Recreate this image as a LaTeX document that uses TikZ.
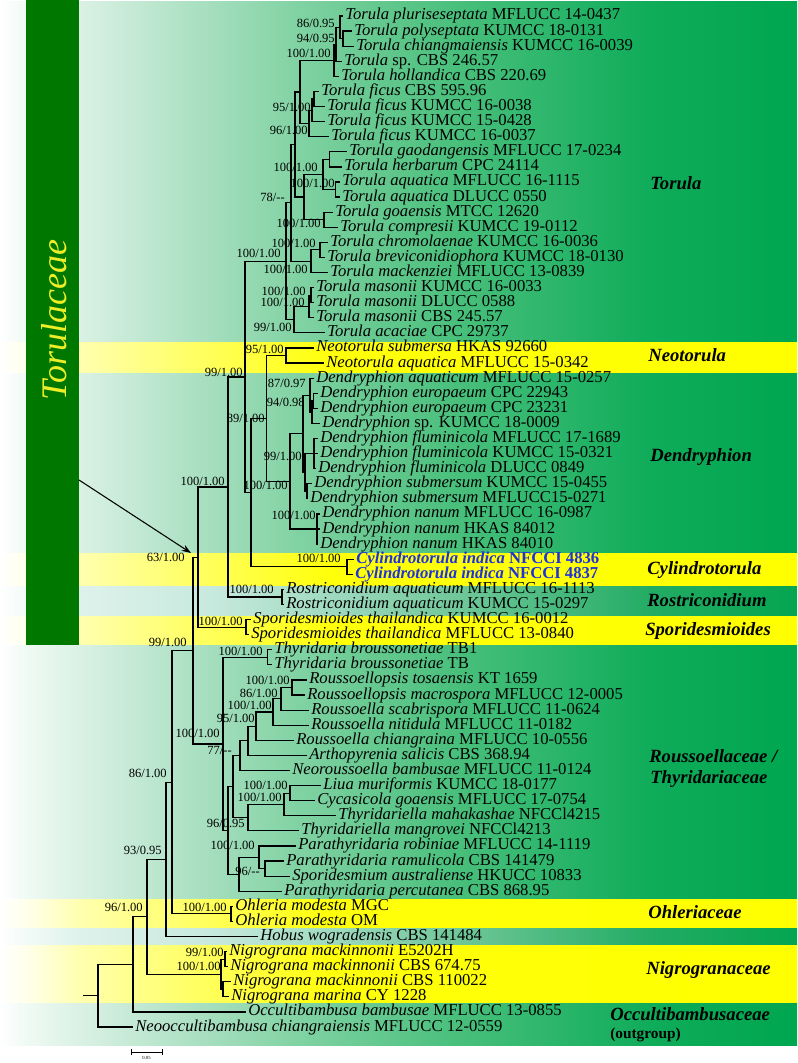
\documentclass[tikz,border=0pt]{standalone}
\usepackage{fontspec}
\setmainfont{Liberation Serif}
\usetikzlibrary{arrows.meta}
\definecolor{famgreen}{RGB}{0,120,0}
\definecolor{famtext}{RGB}{238,238,40}
\definecolor{cylblue}{RGB}{30,50,220}
% green band
\definecolor{ga}{RGB}{255,255,255}
\definecolor{gb}{RGB}{240,250,244}
\definecolor{gc}{RGB}{218,241,228}
\definecolor{gd}{RGB}{165,222,190}
\definecolor{ge}{RGB}{128,210,162}
\definecolor{gf}{RGB}{75,192,125}
\definecolor{gg}{RGB}{15,172,90}
\definecolor{gh}{RGB}{0,166,80}
% yellow band
\definecolor{ya}{RGB}{255,255,255}
\definecolor{yb}{RGB}{255,255,235}
\definecolor{yc}{RGB}{255,255,175}
\definecolor{yd}{RGB}{255,255,90}
\definecolor{ye}{RGB}{255,255,10}
\definecolor{yf}{RGB}{255,255,0}
% teal band
\definecolor{ta}{RGB}{255,255,255}
\definecolor{tb}{RGB}{242,250,248}
\definecolor{tc}{RGB}{222,242,235}
\definecolor{td}{RGB}{200,233,222}
\definecolor{te}{RGB}{170,222,200}
\definecolor{tf}{RGB}{115,200,155}
\definecolor{tg}{RGB}{35,172,100}
\definecolor{th}{RGB}{5,165,80}
\pgfdeclarehorizontalshading{greenband}{100bp}{color(0bp)=(ga); color(25bp)=(ga); color(26.63bp)=(gb); color(30.02bp)=(gc); color(38.17bp)=(gd); color(43.82bp)=(ge); color(53.23bp)=(gf); color(65.78bp)=(gg); color(75bp)=(gh); color(100bp)=(gh)}
\pgfdeclarehorizontalshading{yellowband}{100bp}{color(0bp)=(ya); color(25bp)=(ya); color(26.63bp)=(yb); color(30.02bp)=(yc); color(38.17bp)=(yd); color(45.7bp)=(ye); color(75bp)=(yf); color(100bp)=(yf)}
\pgfdeclarehorizontalshading{tealband}{100bp}{color(0bp)=(ta); color(25bp)=(ta); color(26.63bp)=(tb); color(30.02bp)=(tc); color(38.17bp)=(td); color(43.82bp)=(te); color(53.23bp)=(tf); color(65.78bp)=(tg); color(75bp)=(th); color(100bp)=(th)}
\newcommand\taxon[2]{\textit{#1} #2}
\begin{document}
\begin{tikzpicture}[x=0.75pt,y=-0.75pt,
  declare function={rw(\i)=16+15.09*\i;},
  tax/.style={anchor=west, inner xsep=1.5pt, inner ysep=0pt, font=\fontsize{12.5}{12.5}\selectfont, text height=8.5pt, text depth=2.5pt},
  sup/.style={anchor=east, inner sep=0pt, font=\fontsize{9.4}{9.4}\selectfont, text height=6.2pt, text depth=0pt},
  clade/.style={anchor=west, inner sep=0pt, font=\fontsize{14}{14}\selectfont\bfseries\itshape},
  br/.style={line width=0.9pt, black}]
\useasboundingbox (0,0) rectangle (797,1063);
% ---- background bands
\shade[shading=greenband]  (0,1.5) rectangle (797,342);
\shade[shading=yellowband] (0,342) rectangle (797,373);
\shade[shading=greenband]  (0,373) rectangle (797,553);
\shade[shading=yellowband] (0,553) rectangle (797,586);
\shade[shading=tealband]   (0,586) rectangle (797,616);
\shade[shading=yellowband] (0,616) rectangle (797,645);
\shade[shading=greenband]  (0,645) rectangle (797,899);
\shade[shading=yellowband] (0,899) rectangle (797,928);
\shade[shading=tealband]   (0,928) rectangle (797,945);
\shade[shading=yellowband] (0,945) rectangle (797,1003);
\shade[shading=greenband]  (0,1003) rectangle (797,1045);
% ---- family box
\fill[famgreen] (26,0) rectangle (79,645);
\node[rotate=90, inner sep=0pt, font=\fontsize{27}{27}\selectfont\itshape, text=famtext] (famlab) at (54,320) {Torulaceae};
\coordinate (arrS) at (79,480);
\coordinate (arrE) at (191,553);
\draw[line width=0.8pt, -{Stealth[length=7pt,width=5pt]}] (arrS) -- (arrE);
% ---- tips
\node[tax] (t0) at (343,{rw(0)}) {\taxon{Torula pluriseseptata}{MFLUCC 14-0437}};
\node[tax] (t1) at (352,{rw(1)}) {\taxon{Torula polyseptata}{KUMCC 18-0131}};
\node[tax] (t2) at (354,{rw(2)}) {\taxon{Torula chiangmaiensis}{KUMCC 16-0039}};
\node[tax] (t3) at (342,{rw(3)}) {\taxon{Torula}{sp. CBS 246.57}};
\node[tax] (t4) at (339,{rw(4)}) {\taxon{Torula hollandica}{CBS 220.69}};
\node[tax] (t5) at (319,{rw(5)}) {\taxon{Torula ficus}{CBS 595.96}};
\node[tax] (t6) at (325,{rw(6)}) {\taxon{Torula ficus}{KUMCC 16-0038}};
\node[tax] (t7) at (325,{rw(7)}) {\taxon{Torula ficus}{KUMCC 15-0428}};
\node[tax] (t8) at (329,{rw(8)}) {\taxon{Torula ficus}{KUMCC 16-0037}};
\node[tax] (t9) at (347,{rw(9)}) {\taxon{Torula gaodangensis}{MFLUCC 17-0234}};
\node[tax] (t10) at (342,{rw(10)}) {\taxon{Torula herbarum}{CPC 24114}};
\node[tax] (t11) at (340,{rw(11)}) {\taxon{Torula aquatica}{MFLUCC 16-1115}};
\node[tax] (t12) at (340,{rw(12)}) {\taxon{Torula aquatica}{DLUCC 0550}};
\node[tax] (t13) at (333,{rw(13)}) {\taxon{Torula goaensis}{MTCC 12620}};
\node[tax] (t14) at (338,{rw(14)}) {\taxon{Torula compresii}{KUMCC 19-0112}};
\node[tax] (t15) at (328,{rw(15)}) {\taxon{Torula chromolaenae}{KUMCC 16-0036}};
\node[tax] (t16) at (325,{rw(16)}) {\taxon{Torula breviconidiophora}{KUMCC 18-0130}};
\node[tax] (t17) at (328,{rw(17)}) {\taxon{Torula mackenziei}{MFLUCC 13-0839}};
\node[tax] (t18) at (314,{rw(18)}) {\taxon{Torula masonii}{KUMCC 16-0033}};
\node[tax] (t19) at (314,{rw(19)}) {\taxon{Torula masonii}{DLUCC 0588}};
\node[tax] (t20) at (314,{rw(20)}) {\taxon{Torula masonii}{CBS 245.57}};
\node[tax] (t21) at (325,{rw(21)}) {\taxon{Torula acaciae}{CPC 29737}};
\node[tax] (t22) at (314,{rw(22)}) {\taxon{Neotorula submersa}{HKAS 92660}};
\node[tax] (t23) at (324,{rw(23)}) {\taxon{Neotorula aquatica}{MFLUCC 15-0342}};
\node[tax] (t24) at (314,{rw(24)}) {\taxon{Dendryphion aquaticum}{MFLUCC 15-0257}};
\node[tax] (t25) at (318,{rw(25)}) {\taxon{Dendryphion europaeum}{CPC 22943}};
\node[tax] (t26) at (318,{rw(26)}) {\taxon{Dendryphion europaeum}{CPC 23231}};
\node[tax] (t27) at (320,{rw(27)}) {\taxon{Dendryphion}{sp. KUMCC 18-0009}};
\node[tax] (t28) at (318,{rw(28)}) {\taxon{Dendryphion fluminicola}{MFLUCC 17-1689}};
\node[tax] (t29) at (318,{rw(29)}) {\taxon{Dendryphion fluminicola}{KUMCC 15-0321}};
\node[tax] (t30) at (316,{rw(30)}) {\taxon{Dendryphion fluminicola}{DLUCC 0849}};
\node[tax] (t31) at (312,{rw(31)}) {\taxon{Dendryphion submersum}{KUMCC 15-0455}};
\node[tax] (t32) at (308,{rw(32)}) {\taxon{Dendryphion submersum}{MFLUCC15-0271}};
\node[tax] (t33) at (320,{rw(33)}) {\taxon{Dendryphion nanum}{MFLUCC 16-0987}};
\node[tax] (t34) at (320,{rw(34)}) {\taxon{Dendryphion nanum}{HKAS 84012}};
\node[tax] (t35) at (318,{rw(35)}) {\taxon{Dendryphion nanum}{HKAS 84010}};
\node[tax, text=cylblue, font=\fontsize{12.5}{12.5}\selectfont\bfseries] (t36) at (354,{rw(36)}) {\taxon{Cylindrotorula indica}{NFCCI 4836}};
\node[tax, text=cylblue, font=\fontsize{12.5}{12.5}\selectfont\bfseries] (t37) at (353,{rw(37)}) {\taxon{Cylindrotorula indica}{NFCCI 4837}};
\node[tax] (t38) at (284,{rw(38)}) {\taxon{Rostriconidium aquaticum}{MFLUCC 16-1113}};
\node[tax] (t39) at (284,{rw(39)}) {\taxon{Rostriconidium aquaticum}{KUMCC 15-0297}};
\node[tax] (t40) at (251,{rw(40)}) {\taxon{Sporidesmioides thailandica}{KUMCC 16-0012}};
\node[tax] (t41) at (249,{rw(41)}) {\taxon{Sporidesmioides thailandica}{MFLUCC 13-0840}};
\node[tax] (t42) at (272,{rw(42)}) {\taxon{Thyridaria broussonetiae}{TB1}};
\node[tax] (t43) at (272,{rw(43)}) {\taxon{Thyridaria broussonetiae}{TB}};
\node[tax] (t44) at (307,{rw(44)}) {\taxon{Roussoellopsis tosaensis}{KT 1659}};
\node[tax] (t45) at (305,{rw(45)}) {\taxon{Roussoellopsis macrospora}{MFLUCC 12-0005}};
\node[tax] (t46) at (309,{rw(46)}) {\taxon{Roussoella scabrispora}{MFLUCC 11-0624}};
\node[tax] (t47) at (309,{rw(47)}) {\taxon{Roussoella nitidula}{MFLUCC 11-0182}};
\node[tax] (t48) at (294,{rw(48)}) {\taxon{Roussoella chiangraina}{MFLUCC 10-0556}};
\node[tax] (t49) at (307,{rw(49)}) {\taxon{Arthopyrenia salicis}{CBS 368.94}};
\node[tax] (t50) at (290,{rw(50)}) {\taxon{Neoroussoella bambusae}{MFLUCC 11-0124}};
\node[tax] (t51) at (321,{rw(51)}) {\taxon{Liua muriformis}{KUMCC 18-0177}};
\node[tax] (t52) at (315,{rw(52)}) {\taxon{Cycasicola goaensis}{MFLUCC 17-0754}};
\node[tax] (t53) at (336,{rw(53)}) {\taxon{Thyridariella mahakashae}{NFCCl4215}};
\node[tax] (t54) at (299,{rw(54)}) {\taxon{Thyridariella mangrovei}{NFCCl4213}};
\node[tax] (t55) at (296,{rw(55)}) {\taxon{Parathyridaria robiniae}{MFLUCC 14-1119}};
\node[tax] (t56) at (284,{rw(56)}) {\taxon{Parathyridaria ramulicola}{CBS 141479}};
\node[tax] (t57) at (290,{rw(57)}) {\taxon{Sporidesmium australiense}{HKUCC 10833}};
\node[tax] (t58) at (282,{rw(58)}) {\taxon{Parathyridaria percutanea}{CBS 868.95}};
\node[tax] (t59) at (233,{rw(59)}) {\taxon{Ohleria modesta}{MGC}};
\node[tax] (t60) at (233,{rw(60)}) {\taxon{Ohleria modesta}{OM}};
\node[tax] (t61) at (258,{rw(61)}) {\taxon{Hobus wogradensis}{CBS 141484}};
\node[tax] (t62) at (227,{rw(62)}) {\taxon{Nigrograna mackinnonii}{E5202H}};
\node[tax] (t63) at (228,{rw(63)}) {\taxon{Nigrograna mackinnonii}{CBS 674.75}};
\node[tax] (t64) at (231,{rw(64)}) {\taxon{Nigrograna mackinnonii}{CBS 110022}};
\node[tax] (t65) at (229,{rw(65)}) {\taxon{Nigrograna marina}{CY 1228}};
\node[tax] (t66) at (246,{rw(66)}) {\taxon{Occultibambusa bambusae}{MFLUCC 13-0855}};
\node[tax] (t67) at (133,{rw(67)}) {\taxon{Neooccultibambusa chiangraiensis}{MFLUCC 12-0559}};
% ---- internal nodes
\coordinate (B) at (343,{rw(1.5)});
\coordinate (A) at (340,{rw(0.75)});
\coordinate (C1) at (336,{rw(1.875)});
\coordinate (C) at (334,{rw(2.94)});
\coordinate (E1) at (314,{rw(5.5)});
\coordinate (E2) at (312,{rw(6.25)});
\coordinate (E) at (309,{rw(7.125)});
\coordinate (D) at (300,{rw(5.03)});
\coordinate (G1) at (329.5,{rw(9.5)});
\coordinate (G2) at (335.5,{rw(11.5)});
\coordinate (G) at (323,{rw(10.5)});
\coordinate (G3) at (324,{rw(13.5)});
\coordinate (G4) at (304,{rw(12)});
\coordinate (H) at (295,{rw(8.52)});
\coordinate (I1) at (320,{rw(15.5)});
\coordinate (I2) at (311,{rw(16.25)});
\coordinate (Hp) at (291,{rw(12.38)});
\coordinate (M1) at (311,{rw(18.5)});
\coordinate (M) at (309,{rw(19.25)});
\coordinate (K) at (294,{rw(20.125)});
\coordinate (T0) at (286,{rw(16.25)});
\coordinate (N) at (286,{rw(22.5)});
\coordinate (De2a) at (313.5,{rw(25.5)});
\coordinate (De2) at (312,{rw(26.25)});
\coordinate (De) at (310,{rw(25.125)});
\coordinate (Df) at (314,{rw(29)});
\coordinate (Ds) at (307,{rw(31.5)});
\coordinate (Dfs) at (305,{rw(30.25)});
\coordinate (Dx) at (303,{rw(27.69)});
\coordinate (Dn) at (317,{rw(34)});
\coordinate (Dr) at (290,{rw(30.84)});
\coordinate (Q) at (266.6,{rw(26.67)});
\coordinate (Cy) at (347,{rw(36.5)});
\coordinate (R) at (251,{rw(31.58)});
\coordinate (P) at (245,{rw(23.92)});
\coordinate (Ro) at (282,{rw(38.5)});
\coordinate (S) at (228,{rw(31.21)});
\coordinate (Sp) at (246,{rw(40.5)});
\coordinate (U) at (198,{rw(35.86)});
\coordinate (Th) at (267.6,{rw(42.5)});
\coordinate (Ra) at (292,{rw(44.5)});
\coordinate (Rb) at (281,{rw(45.25)});
\coordinate (Rc) at (273,{rw(46.125)});
\coordinate (Rd) at (256,{rw(47.06)});
\coordinate (Re) at (248,{rw(48.03)});
\coordinate (Rf) at (240,{rw(49.02)});
\coordinate (Rg) at (290,{rw(51.5)});
\coordinate (Rh) at (284,{rw(52.25)});
\coordinate (Ri) at (248,{rw(53.125)});
\coordinate (Rn) at (233,{rw(51.07)});
\coordinate (Rj) at (265,{rw(56.5)});
\coordinate (Rk) at (259,{rw(55.75)});
\coordinate (Rl) at (239,{rw(56.875)});
\coordinate (Rm) at (228,{rw(53.97)});
\coordinate (W) at (223,{rw(48.24)});
\coordinate (V) at (193,{rw(42.05)});
\coordinate (Oh) at (231,{rw(59.5)});
\coordinate (X) at (172,{rw(50.78)});
\coordinate (Y) at (166,{rw(55.89)});
\coordinate (Ng1) at (225,{rw(62.5)});
\coordinate (Ng2) at (223,{rw(64.5)});
\coordinate (Ng) at (221,{rw(63.5)});
\coordinate (Z) at (147,{rw(59.7)});
\coordinate (Oc) at (133,{rw(62.85)});
\coordinate (Root) at (98,{rw(64.92)});
\coordinate (stub) at (83,{rw(64.92)});
% ---- branches
\foreach \a/\b in {A/t0.west, A/B, B/t1.west, B/t2.west, C1/A, C1/t3.west, C/C1, C/t4.west,
  E1/t5.west, E1/t6.west, E2/E1, E2/t7.west, E/E2, E/t8.west, D/C, D/E,
  G1/t9.west, G1/t10.west, G2/t11.west, G2/t12.west, G/G1, G/G2, G3/t13.west, G3/t14.west,
  G4/G, G4/G3, H/D, H/G4, I1/t15.west, I1/t16.west, I2/I1, I2/t17.west, Hp/H, Hp/I2,
  M1/t18.west, M1/t19.west, M/M1, M/t20.west, K/M, K/t21.west, T0/Hp, T0/K,
  N/t22.west, N/t23.west, De2a/t25.west, De2a/t26.west, De2/De2a, De2/t27.west, De/t24.west, De/De2,
  Df/t28.west, Df/t29.west, Df/t30.west, Ds/t31.west, Ds/t32.west, Dfs/Df, Dfs/Ds, Dx/De, Dx/Dfs,
  Dn/t33.west, Dn/t34.west, Dn/t35.west, Dr/Dx, Dr/Dn, Q/N, Q/Dr, Cy/t36.west, Cy/t37.west,
  R/Q, R/Cy, P/T0, P/R, Ro/t38.west, Ro/t39.west, S/P, S/Ro, Sp/t40.west, Sp/t41.west, U/S, U/Sp,
  Th/t42.west, Th/t43.west, Ra/t44.west, Ra/t45.west, Rb/Ra, Rb/t46.west, Rc/Rb, Rc/t47.west,
  Rd/Rc, Rd/t48.west, Re/Rd, Re/t49.west, Rf/Re, Rf/t50.west, Rg/t51.west, Rg/t52.west,
  Rh/Rg, Rh/t53.west, Ri/Rh, Ri/t54.west, Rn/Rf, Rn/Ri, Rj/t56.west, Rj/t57.west,
  Rk/t55.west, Rk/Rj, Rl/Rk, Rl/t58.west, Rm/Rn, Rm/Rl, W/Th, W/Rm, V/U, V/W,
  Oh/t59.west, Oh/t60.west, X/V, X/Oh, Y/X, Y/t61.west, Ng1/t62.west, Ng1/t63.west,
  Ng2/t64.west, Ng2/t65.west, Ng/Ng1, Ng/Ng2, Z/Y, Z/Ng, Oc/Z, Oc/t66.west, Root/Oc, Root/t67.west}
  \draw[br] (\a) |- (\b);
\draw[br] (stub) -- (Root);
% ---- support values
\node[sup] (s1) at (335,23) {86/0.95};
\node[sup] (s2) at (335,38) {94/0.95};
\node[sup] (s3) at (331,53) {100/1.00};
\node[sup] (s4) at (311,107) {95/1.00};
\node[sup] (s5) at (308,130) {96/1.00};
\node[sup] (s6) at (318,167) {100/1.00};
\node[sup] (s7) at (335,183) {100/1.00};
\node[sup] (s8) at (285,197) {78/{-}{-}};
\node[sup] (s9) at (321,223) {100/1.00};
\node[sup] (s10) at (316,243) {100/1.00};
\node[sup] (s11) at (281,253) {100/1.00};
\node[sup] (s12) at (308,269) {100/1.00};
\node[sup] (s13) at (306,291) {100/1.00};
\node[sup] (s14) at (305,302) {100/1.00};
\node[sup] (s15) at (292,327) {99/1.00};
\node[sup] (s16) at (284,349) {95/1.00};
\node[sup] (s17) at (243,372) {99/1.00};
\node[sup] (s18) at (306,383) {87/0.97};
\node[sup] (s19) at (305,402) {94/0.98};
\node[sup] (s20) at (265,418) {89/1.00};
\node[sup] (s21) at (302,456) {99/1.00};
\node[sup] (s22) at (225,481) {100/1.00};
\node[sup] (s23) at (288,485) {100/1.00};
\node[sup] (s24) at (316,515) {100/1.00};
\node[sup] (s25) at (341,558) {100/1.00};
\node[sup] (s26) at (185,557) {63/1.00};
\node[sup] (s27) at (274,589) {100/1.00};
\node[sup] (s28) at (243,621) {100/1.00};
\node[sup] (s29) at (187,642) {99/1.00};
\node[sup] (s30) at (263,651) {100/1.00};
\node[sup] (s31) at (290,680) {100/1.00};
\node[sup] (s32) at (278,693) {86/1.00};
\node[sup] (s33) at (272,705) {100/1.00};
\node[sup] (s34) at (255,718) {95/1.00};
\node[sup] (s35) at (220,733) {100/1.00};
\node[sup] (s36) at (232,750) {77/{-}{-}};
\node[sup] (s37) at (167,773) {86/1.00};
\node[sup] (s38) at (288,785) {100/1.00};
\node[sup] (s39) at (282,797) {100/1.00};
\node[sup] (s40) at (245,823) {96/0.95};
\node[sup] (s41) at (255,845) {100/1.00};
\node[sup] (s42) at (162,850) {93/0.95};
\node[sup] (s43) at (260,871) {96/{-}{-}};
\node[sup] (s44) at (143,907) {96/1.00};
\node[sup] (s45) at (227,907) {100/1.00};
\node[sup] (s46) at (224,952) {99/1.00};
\node[sup] (s47) at (221,966) {100/1.00};
% ---- clade labels
\node[clade] (c1) at (650,183) {Torula};
\node[clade] (c2) at (648,355) {Neotorula};
\node[clade] (c3) at (650,457) {Dendryphion};
\node[clade] (c4) at (647,570) {Cylindrotorula};
\node[clade] (c5) at (647,600) {Rostriconidium};
\node[clade] (c6) at (645,631) {Sporidesmioides};
\node[clade] (c7) at (649,756) {Roussoellaceae /};
\node[clade] (c8) at (650,779) {Thyridariaceae};
\node[clade] (c9) at (648,912) {Ohleriaceae};
\node[clade] (c10) at (646,970) {Nigrogranaceae};
\node[clade] (c11) at (610,1014) {Occultibambusaceae};
\node[anchor=west, inner sep=0pt, font=\fontsize{11.5}{11.5}\selectfont\bfseries] (c12) at (610,1035) {(outgroup)};
% ---- scale bar
\coordinate (sbL) at (131,1052);
\coordinate (sbR) at (162,1052);
\draw[line width=0.7pt] (sbL) -- (sbR);
\draw[line width=0.5pt] ([yshift=2.5]sbL) -- ([yshift=-2.5]sbL);
\draw[line width=0.5pt] ([yshift=2.5]sbR) -- ([yshift=-2.5]sbR);
\node[inner sep=0pt, font=\fontsize{3.5}{3.5}\selectfont] (sbt) at (146.5,1058) {0.05};
\end{tikzpicture}
\end{document}
